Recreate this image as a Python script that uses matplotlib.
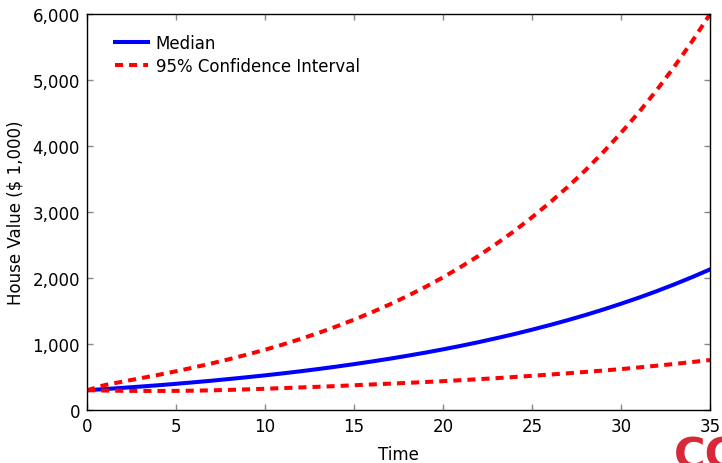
import matplotlib
matplotlib.use("Agg")
import matplotlib.pyplot as plt
from matplotlib.ticker import StrMethodFormatter
from matplotlib.lines import Line2D

# values, one per year (house value in $1,000)
years = list(range(36))
median = [300, 317, 336, 355, 375, 397, 420, 444, 470, 497,
          525, 555, 587, 621, 657, 695, 735, 777, 822, 869,
          919, 972, 1028, 1088, 1150, 1217, 1287, 1361, 1439, 1522,
          1610, 1702, 1800, 1904, 2014, 2130]
upper = [300, 378, 430, 481, 532, 587, 645, 706, 771, 840,
         913, 992, 1077, 1167, 1265, 1369, 1480, 1599, 1727, 1863,
         2010, 2168, 2336, 2519, 2711, 2920, 3142, 3379, 3632, 3906,
         4199, 4510, 4844, 5204, 5587, 5998]
lower = [300, 295, 291, 289, 289, 290, 293, 298, 305, 313,
         322, 332, 342, 352, 363, 375, 387, 399, 411, 424,
         437, 452, 467, 483, 500, 518, 537, 556, 577, 598,
         620, 645, 671, 698, 727, 757]

xticks = [0, 5, 10, 15, 20, 25, 30, 35]
yticks = [0, 1000, 2000, 3000, 4000, 5000, 6000]

plt.rcParams['font.family'] = ['DejaVu Sans']
plt.rcParams['font.size'] = 12

fig = plt.figure(figsize=(7.22, 4.64), dpi=100)
ax = fig.add_axes([0.1205, 0.1142, 0.8629, 0.8535])

ax.plot(years, median, color='#0000ff', lw=2.9, label='Median')
ax.plot(years, upper, color='#ff0000', lw=2.9, ls=(0, (2, 1.5)),
        label='95% Confidence Interval')
ax.plot(years, lower, color='#ff0000', lw=2.9, ls=(0, (2, 1.5)))

ax.set_xlim(0, 35)
ax.set_ylim(0, 6000)
ax.set_xticks(xticks)
ax.set_yticks(yticks)
ax.yaxis.set_major_formatter(StrMethodFormatter('{x:,.0f}'))

# pgfplots-like inward ticks on every side
ax.tick_params(direction='in', length=4, width=1, color='#888888',
               top=True, right=True, pad=5)
for s in ax.spines.values():
    s.set_linewidth(1)
    s.set_color('black')

ax.set_xlabel('Time', labelpad=7)
ax.set_ylabel(r'House Value (\$ 1,000)', labelpad=6)

ax.legend(loc='upper left', frameon=False, handlelength=2.0,
          handletextpad=0.45, borderaxespad=0, borderpad=0,
          bbox_to_anchor=(0.045, 0.95), labelspacing=0.33)

# partly clipped striped logo in the bottom-right corner
fig.text(674 / 722, 1 - 436 / 464, 'CC', color='#d8283a', fontsize=31,
         fontweight='bold', ha='left', va='top')
for yp in range(441, 464, 3):
    fig.add_artist(Line2D([668 / 722, 1], [1 - yp / 464] * 2,
                          color='white', lw=0.9))

fig.savefig('out.png', dpi=100)
